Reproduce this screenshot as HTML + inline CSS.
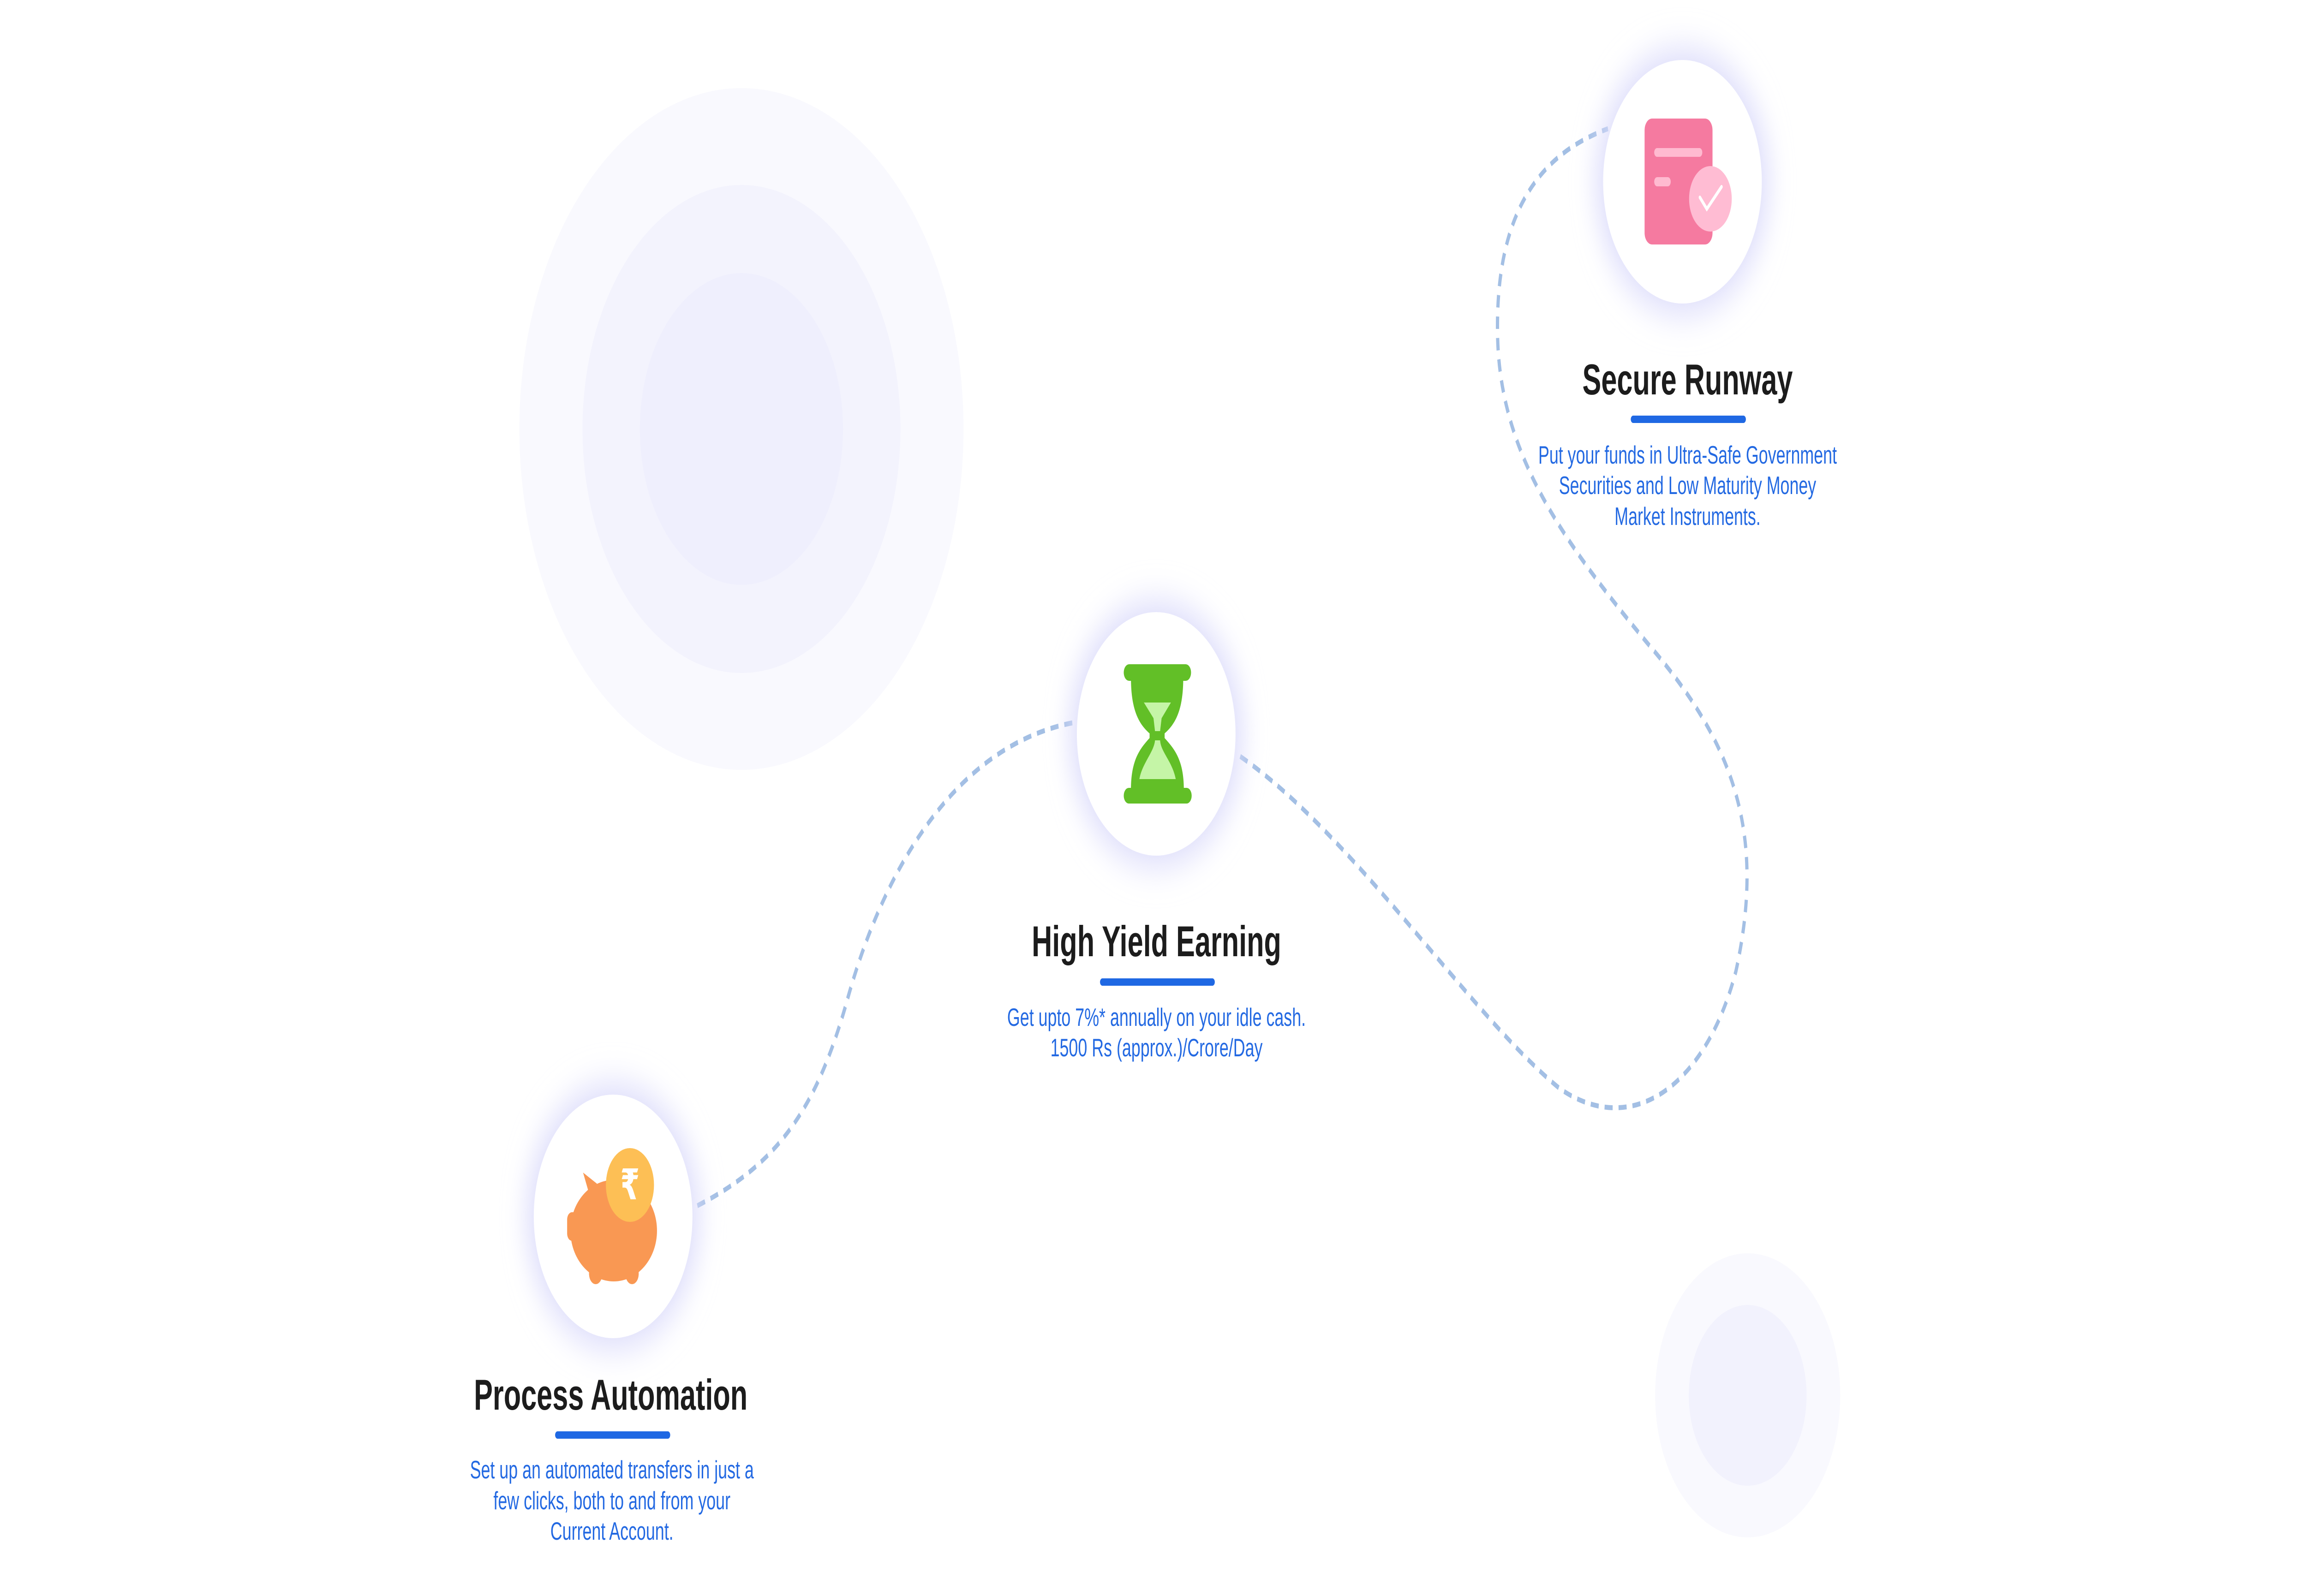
<!DOCTYPE html>
<html><head><meta charset="utf-8"><style>
html,body{margin:0;padding:0;background:#fff;width:100%;height:100%;overflow:hidden;}
svg{display:block;width:100vw;height:100vh;}
.t{font-family:"Liberation Sans",sans-serif;font-weight:bold;font-size:94px;fill:#1c1c1c;}
.d{font-family:"Liberation Sans",sans-serif;font-size:55px;fill:#2369e2;}
</style></head><body>
<svg viewBox="0 0 7676 3460" preserveAspectRatio="none">
<defs>
<filter id="g" x="-50%" y="-50%" width="200%" height="200%"><feGaussianBlur stdDeviation="40"/></filter>
</defs>
<rect width="7676" height="3460" fill="#fff"/>
<circle cx="2467" cy="930" r="739" fill="#f9f9fe"/>
<circle cx="2467" cy="930" r="529" fill="#f3f3fd"/>
<circle cx="2467" cy="930" r="338" fill="#efeffd"/>
<circle cx="5815" cy="3025" r="308" fill="#f9f9fe"/>
<circle cx="5815" cy="3025" r="196" fill="#f2f2fd"/>
<g transform="scale(4.895)" fill="none" stroke="#a3bfe4" stroke-width="2.2" stroke-dasharray="5.5 4">
<path d="M474,534 C530,515 555,490 575,445 C600,385 650,330 730,320"/>
<path d="M843,335 C920,370 1000,450 1060,482 C1110,505 1160,480 1180,430 C1200,370 1180,330 1120,285 C1060,238 1020,200 1018,150 C1016,100 1040,70 1093,57"/>
</g>
<g filter="url(#g)" fill="#dcdcfb">
<circle cx="2040" cy="2637" r="285"/>
<circle cx="3847" cy="1591" r="285"/>
<circle cx="5598" cy="394" r="285"/>
</g>
<circle cx="2040" cy="2637" r="264" fill="#fff"/>
<circle cx="3847" cy="1591" r="264" fill="#fff"/>
<circle cx="5598" cy="394" r="264" fill="#fff"/>
<!-- piggy -->
<path d="M1940,2542 L1986,2566 L1970,2610 Z" fill="#f99853"/>
<ellipse cx="2042" cy="2668" rx="144" ry="110" fill="#f99853"/>
<rect x="1887" y="2628" width="50" height="62" rx="16" fill="#f99853"/>
<circle cx="1982" cy="2762" r="22" fill="#f99853"/><rect x="1960" y="2730" width="44" height="34" fill="#f99853"/>
<circle cx="2103" cy="2762" r="22" fill="#f99853"/><rect x="2081" y="2730" width="44" height="34" fill="#f99853"/>
<circle cx="2096" cy="2569" r="80" fill="#fdbf55"/>
<text x="2096" y="2600" text-anchor="middle" font-family="DejaVu Sans, sans-serif" font-size="92" font-weight="bold" fill="#fff">₹</text>
<!-- hourglass -->
<rect x="3739" y="1440" width="224" height="36" rx="18" fill="#62bf27"/>
<rect x="3739" y="1708" width="226" height="34" rx="17" fill="#62bf27"/>
<path d="M3763,1470 C3763,1540 3790,1570 3825,1590 L3825,1600 C3790,1625 3763,1650 3763,1712 L3939,1712 C3939,1650 3910,1625 3875,1600 L3875,1590 C3910,1570 3937,1540 3937,1470 Z" fill="#62bf27"/>
<path d="M3806,1523 L3896,1523 L3865,1557 L3860,1585 L3843,1585 L3838,1557 Z" fill="#c5f5a7"/>
<path d="M3843,1605 L3860,1605 C3862,1630 3900,1650 3912,1689 L3791,1689 C3800,1655 3840,1630 3843,1605 Z" fill="#c5f5a7"/>
<!-- document -->
<rect x="5472" y="257" width="226" height="273" rx="25" fill="#f57aa0"/>
<rect x="5504" y="321" width="160" height="19" rx="9.5" fill="#ffbad0"/>
<rect x="5504" y="384" width="55" height="20" rx="10" fill="#ffbad0"/>
<circle cx="5691" cy="431" r="71" fill="#ffbcd3"/>
<path d="M5656,428 L5679,453 L5728,405" fill="none" stroke="#fff" stroke-width="8" stroke-linecap="round"/>
<!-- labels -->
<text class="t" x="2032" y="3056" text-anchor="middle">Process Automation</text>
<rect x="1847" y="3103" width="383" height="16" rx="8" fill="#1f68e3"/>
<text class="d" text-anchor="middle"><tspan x="2036" y="3205">Set up an automated transfers in just a</tspan><tspan x="2036" y="3272">few clicks, both to and from your</tspan><tspan x="2036" y="3338">Current Account.</tspan></text>
<text class="t" x="3848" y="2073" text-anchor="middle">High Yield Earning</text>
<rect x="3660" y="2121" width="382" height="16" rx="8" fill="#1f68e3"/>
<text class="d" text-anchor="middle"><tspan x="3848" y="2224">Get upto 7%* annually on your idle cash.</tspan><tspan x="3848" y="2290">1500 Rs (approx.)/Crore/Day</tspan></text>
<text class="t" x="5615" y="855" text-anchor="middle">Secure Runway</text>
<rect x="5426" y="901" width="383" height="16" rx="8" fill="#1f68e3"/>
<text class="d" text-anchor="middle"><tspan x="5615" y="1005">Put your funds in Ultra-Safe Government</tspan><tspan x="5615" y="1071">Securities and Low Maturity Money</tspan><tspan x="5615" y="1138">Market Instruments.</tspan></text>
</svg>
</body></html>
